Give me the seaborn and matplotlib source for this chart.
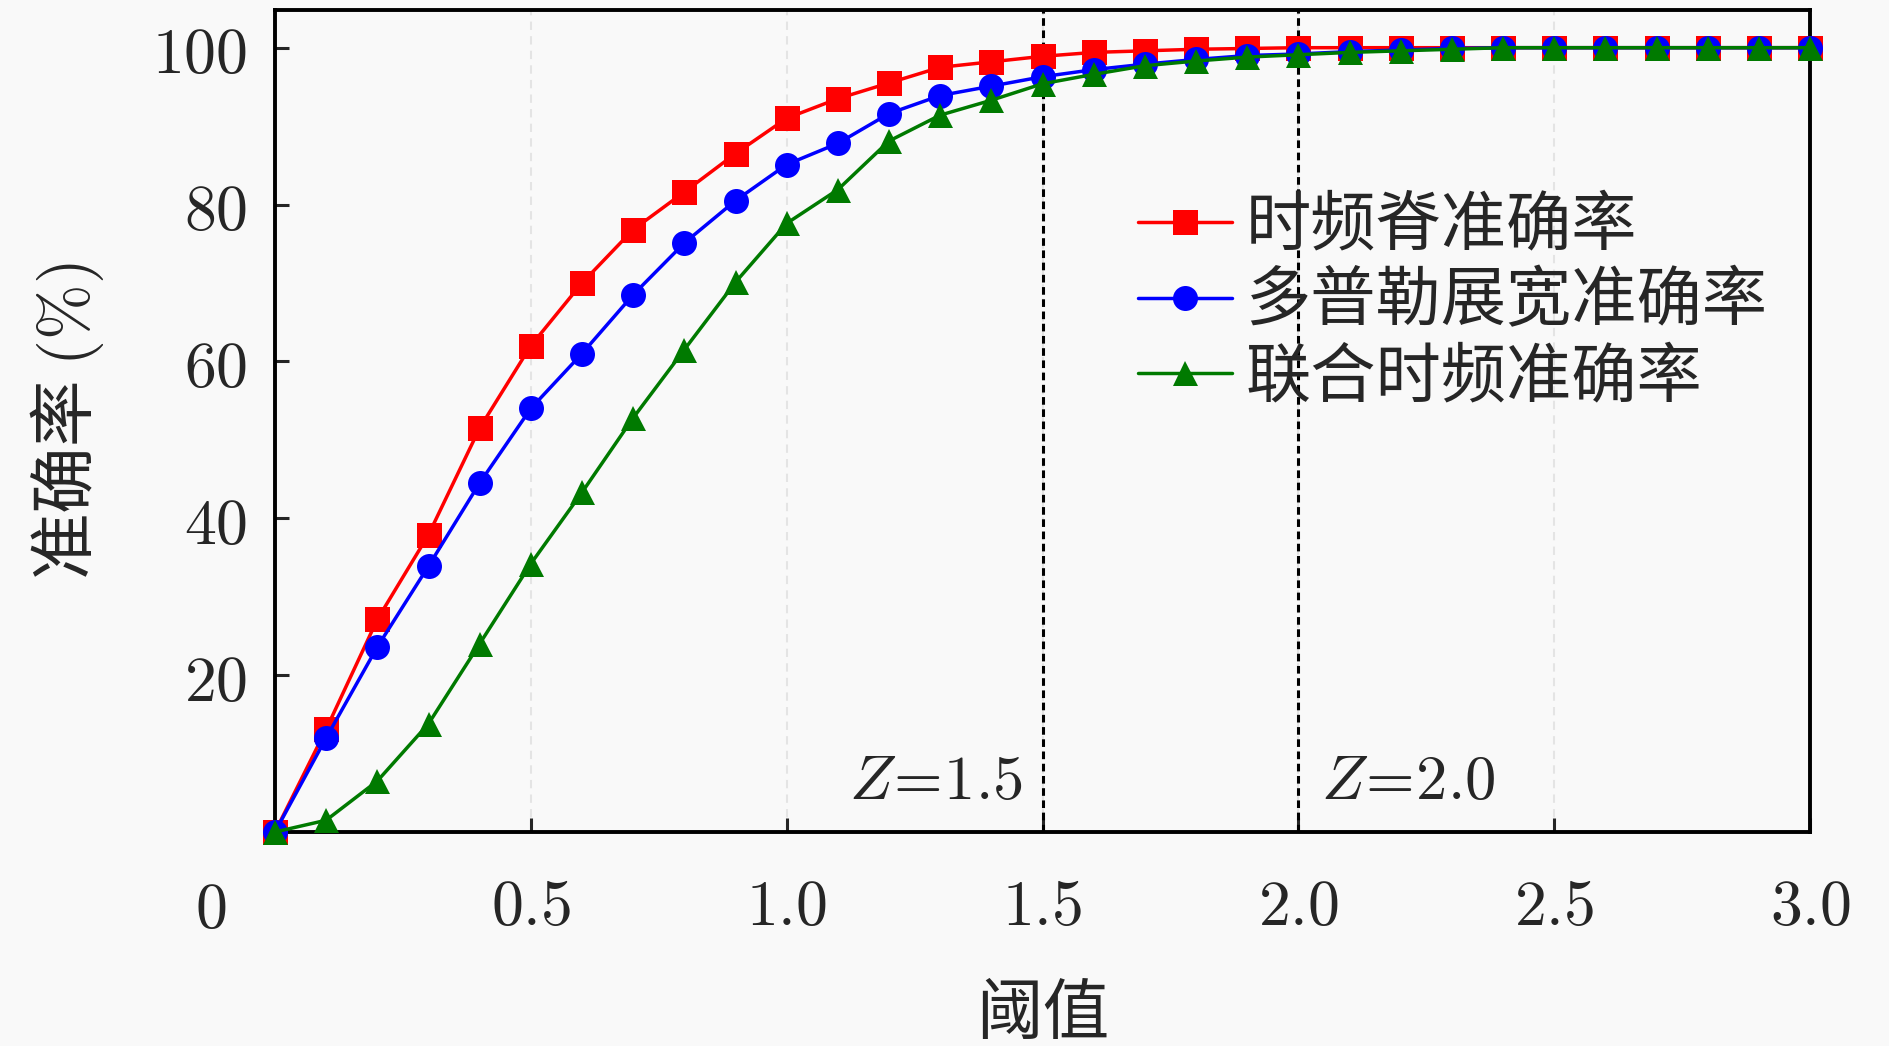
import matplotlib
matplotlib.use("Agg")
import matplotlib.pyplot as plt
import seaborn as sns
import pandas as pd

thresholds = [0.0, 0.1, 0.2, 0.3, 0.4, 0.5, 0.6, 0.7, 0.8, 0.9,
              1.0, 1.1, 1.2, 1.3, 1.4, 1.5, 1.6, 1.7, 1.8, 1.9,
              2.0, 2.1, 2.2, 2.3, 2.4, 2.5, 2.6, 2.7, 2.8, 2.9, 3.0]
ridge_acc = [0, 13.1, 27.1, 37.9, 51.5, 62.0, 70.0, 76.8, 81.6, 86.5,
             91.0, 93.5, 95.5, 97.5, 98.2, 98.9, 99.4, 99.6, 99.8, 99.9,
             100, 100, 100, 100, 100, 100, 100, 100, 100, 100, 100]
doppler_acc = [0, 12.0, 23.6, 33.9, 44.5, 54.0, 61.0, 68.5, 75.1, 80.5,
               85.1, 87.8, 91.6, 93.9, 95.1, 96.3, 97.2, 97.9, 98.5, 99.0,
               99.2, 99.5, 99.7, 99.9, 100, 100, 100, 100, 100, 100, 100]
joint_acc = [0, 1.5, 6.5, 13.8, 24.0, 34.2, 43.3, 52.8, 61.5, 70.1,
             77.6, 81.9, 88.1, 91.4, 93.3, 95.4, 96.6, 97.7, 98.3, 98.8,
             99.1, 99.4, 99.6, 99.8, 100, 100, 100, 100, 100, 100, 100]
series_names = ["时频脊准确率", "多普勒展宽准确率", "联合时频准确率"]
x_ticks = [0.5, 1.0, 1.5, 2.0, 2.5, 3.0]
y_ticks = [20, 40, 60, 80, 100]
z_lines = [1.5, 2.0]

sns.set_theme(style="ticks")
plt.rcParams['font.family'] = ['Noto Sans CJK SC', 'DejaVu Sans']
plt.rcParams['mathtext.fontset'] = 'cm'
plt.rcParams['axes.unicode_minus'] = False

bg = '#f9f9f9'
df = pd.concat([
    pd.DataFrame({"thr": thresholds, "acc": vals, "series": name})
    for name, vals in zip(series_names, [ridge_acc, doppler_acc, joint_acc])
], ignore_index=True)

fig = plt.figure(figsize=(18.9, 10.46), dpi=100, facecolor=bg)
ax = fig.add_axes([0.1455, 0.2046, 0.8122, 0.7858])
ax.set_facecolor(bg)

# faint vertical grid
for xv in x_ticks:
    ax.axvline(xv, color='#e4e4e4', lw=1.5, ls=(0, (4, 3)), zorder=0)

sns.lineplot(data=df, x="thr", y="acc", hue="series", style="series",
             markers=['s', 'o', '^'], dashes=False,
             palette=['#ff0000', '#0000ff', '#007a00'],
             markersize=18, linewidth=2.5, markeredgewidth=0,
             ax=ax, zorder=3, clip_on=False)

for zl in z_lines:
    ax.axvline(zl, color='black', lw=2.2, ls=(0, (2.5, 1.5)), zorder=2)

ax.text(z_lines[0] - 0.04, 6.5, r'$Z\!=\!1.5$', ha='right', va='center', fontsize=45)
ax.text(z_lines[1] + 0.045, 6.5, r'$Z\!=\!2.0$', ha='left', va='center', fontsize=45)

ax.set_xlim(0, 3.0)
ax.set_ylim(0, 104.8)
ax.set_xticks(x_ticks)
ax.set_xticklabels([f'${v:.1f}$' for v in x_ticks], fontsize=46)
ax.set_yticks(y_ticks)
ax.set_yticklabels([f'${v}$' for v in y_ticks], fontsize=46)
ax.tick_params(axis='x', direction='in', length=10, width=2.2, pad=30, bottom=True, top=False)
ax.tick_params(axis='y', direction='in', length=10, width=2.2, pad=20, left=True, right=False)
ax.text(-0.125, -0.095, r'$0$', transform=ax.get_xaxis_transform(), ha='center', va='center',
        fontsize=46)

for sp in ax.spines.values():
    sp.set_linewidth(2.8)
    sp.set_color('black')

ax.set_xlabel('阈值', fontsize=48, labelpad=30)
ax.set_ylabel(r'准确率 $(\%)$', fontsize=48, labelpad=33)

leg = ax.legend(loc='upper left', bbox_to_anchor=(0.562, 0.777), frameon=False,
                fontsize=47, handlelength=1.45, handletextpad=0.2, labelspacing=0.14,
                borderpad=0, borderaxespad=0)
for h in leg.legend_handles:
    h.set_markersize(18)
    h.set_linewidth(2.5)

fig.savefig('out.png', dpi=100, facecolor=bg)
